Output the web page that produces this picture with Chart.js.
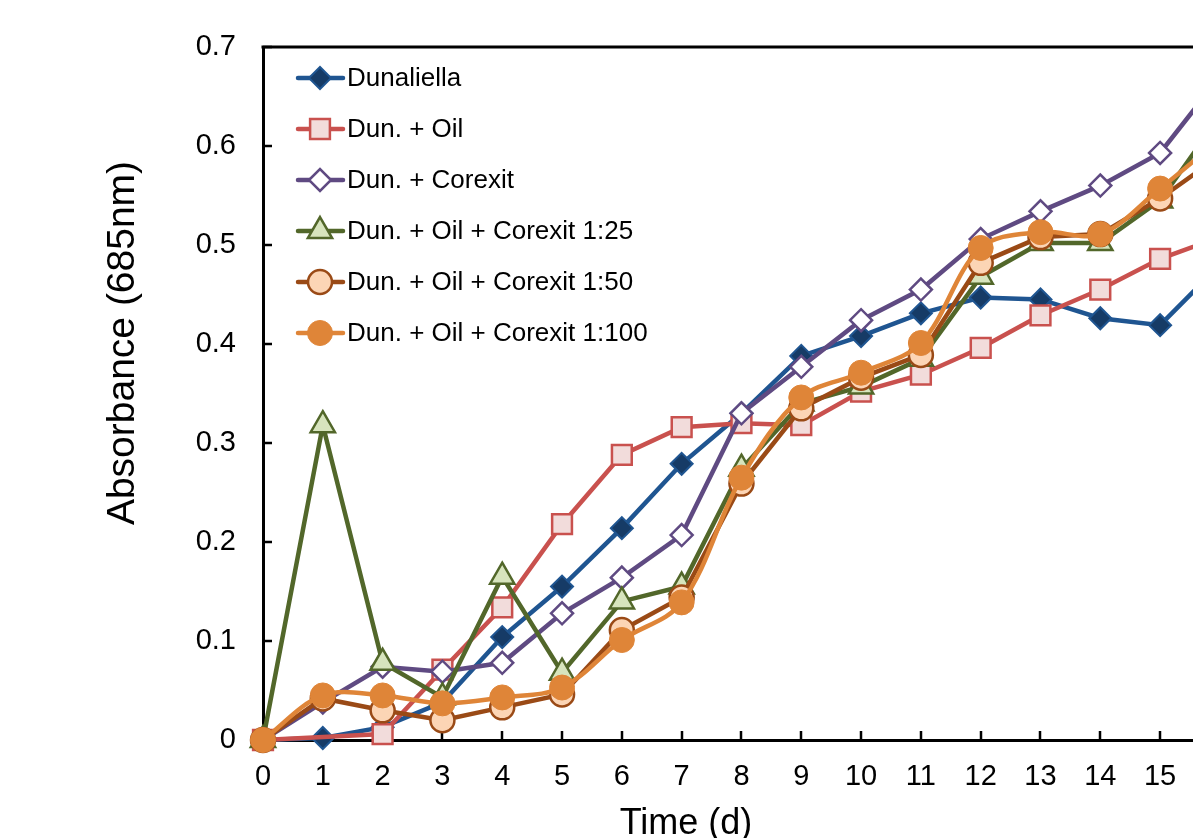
<!DOCTYPE html>
<html>
<head>
<meta charset="utf-8">
<script src="https://cdn.jsdelivr.net/npm/chart.js@4.4.1/dist/chart.umd.min.js"></script>
<style>
  html, body { margin: 0; padding: 0; background: #fff; overflow: hidden; }
  #wrap { width: 1193px; height: 838px; }
</style>
</head>
<body>
<div id="wrap"><canvas id="growthChart" width="1193" height="838"></canvas></div>
<script>
// Absorbance readings per day
const days = [0, 1, 2, 3, 4, 5, 6, 7, 8, 9, 10, 11, 12, 13, 14, 15, 16];
const xTickDays = [0, 1, 2, 3, 4, 5, 6, 7, 8, 9, 10, 11, 12, 13, 14, 15];
const yTickValues = [0, 0.1, 0.2, 0.3, 0.4, 0.5, 0.6, 0.7];

const seriesNames = [
  'Dunaliella',
  'Dun. + Oil',
  'Dun. + Corexit',
  'Dun. + Oil + Corexit 1:25',
  'Dun. + Oil + Corexit 1:50',
  'Dun. + Oil + Corexit 1:100'
];

const dunaliella = [0, 0.002, 0.013, 0.038, 0.104, 0.155, 0.214, 0.279, 0.330, 0.388, 0.408, 0.431, 0.447, 0.445, 0.426, 0.419, 0.48];
const dunOil = [0, null, 0.006, 0.071, 0.134, 0.218, 0.288, 0.316, 0.320, 0.318, 0.352, 0.369, 0.396, 0.429, 0.455, 0.486, 0.508];
const dunCorexit = [0, 0.038, 0.074, 0.069, 0.078, 0.128, 0.164, 0.207, 0.330, 0.377, 0.424, 0.455, 0.506, 0.534, 0.560, 0.593, 0.67];
const oilCorexit25 = [0, 0.318, 0.078, 0.043, 0.165, 0.068, 0.140, 0.155, 0.274, 0.340, 0.357, 0.385, 0.468, 0.502, 0.502, 0.545, 0.63];
const oilCorexit50 = [0, 0.042, 0.030, 0.020, 0.033, 0.046, 0.111, 0.144, 0.259, 0.335, 0.366, 0.389, 0.482, 0.508, 0.511, 0.547, 0.59];
const oilCorexit100 = [0, 0.045, 0.045, 0.037, 0.043, 0.053, 0.101, 0.139, 0.265, 0.346, 0.371, 0.401, 0.497, 0.513, 0.511, 0.557, 0.607];

const FONT = '"Liberation Sans", Arial, Helvetica, sans-serif';
Chart.defaults.font.family = FONT;
Chart.defaults.color = '#000';

const toPoints = (vals) => days.map((d, i) => ({ x: d, y: vals[i] }));

const datasets = [
  { label: seriesNames[0], data: toPoints(dunaliella), borderColor: '#1F5591', backgroundColor: '#163B66',
    pointStyle: 'rectRot', pointRadius: 11, pointBorderWidth: 2 },
  { label: seriesNames[1], data: toPoints(dunOil), borderColor: '#C9514E', backgroundColor: '#F2DCDB',
    pointStyle: 'rect', pointRadius: 14, pointBorderWidth: 2.5 },
  { label: seriesNames[2], data: toPoints(dunCorexit), borderColor: '#5F4A82', backgroundColor: '#FFFFFF',
    pointStyle: 'rectRot', pointRadius: 11, pointBorderWidth: 2.5 },
  { label: seriesNames[3], data: toPoints(oilCorexit25), borderColor: '#52672A', backgroundColor: '#D7E4BD',
    pointStyle: 'triangle', pointRadius: 14, pointBorderWidth: 2.5 },
  { label: seriesNames[4], data: toPoints(oilCorexit50), borderColor: '#9A4A16', backgroundColor: '#FCD5B5',
    pointStyle: 'circle', pointRadius: 12, pointBorderWidth: 2.5 },
  { label: seriesNames[5], data: toPoints(oilCorexit100), borderColor: '#DF8538', backgroundColor: '#DF8538',
    pointStyle: 'circle', pointRadius: 12.5, pointBorderWidth: 1, tension: 0.35 }
];
datasets.forEach((ds, i) => {
  ds.borderWidth = 4.5;
  ds.spanGaps = true;
  ds.clip = false; // markers at day 0 sit on the axes, as in Excel
  ds.order = datasets.length - i; // later series drawn on top, like Excel
});

// frame: top border line + inward tick marks
const frameAndTicks = {
  id: 'frameAndTicks',
  beforeDatasetsDraw(chart) {
    const { ctx, chartArea, scales } = chart;
    ctx.save();
    ctx.strokeStyle = '#000';
    ctx.lineWidth = 3;
    ctx.beginPath();
    ctx.moveTo(chartArea.left - 1.5, chartArea.top);
    ctx.lineTo(chartArea.right + 2, chartArea.top);
    ctx.stroke();
    ctx.lineWidth = 2.5;
    ctx.beginPath();
    xTickDays.forEach(d => {
      const px = Math.round(scales.x.getPixelForValue(d));
      ctx.moveTo(px, chartArea.bottom);
      ctx.lineTo(px, chartArea.bottom - 9);
    });
    yTickValues.forEach(v => {
      const py = Math.round(scales.y.getPixelForValue(v));
      ctx.moveTo(chartArea.left, py);
      ctx.lineTo(chartArea.left + 9, py);
    });
    ctx.stroke();
    ctx.restore();
  }
};

// axis titles and the in-plot legend
const titlesAndLegend = {
  id: 'titlesAndLegend',
  afterDraw(chart) {
    const { ctx } = chart;
    ctx.save();
    ctx.fillStyle = '#000';
    ctx.textAlign = 'center';
    ctx.textBaseline = 'alphabetic';
    ctx.font = '36px ' + FONT;
    ctx.fillText('Time (d)', 686, 834);

    ctx.translate(134, 343);
    ctx.rotate(-Math.PI / 2);
    ctx.font = '39px ' + FONT;
    ctx.fillText('Absorbance (685nm)', 0, 0);
    ctx.restore();

    ctx.save();
    chart.data.datasets.forEach((ds, i) => {
      const y = 78 + i * 51;
      ctx.strokeStyle = ds.borderColor;
      ctx.lineWidth = 4.5;
      ctx.lineCap = 'round';
      ctx.beginPath();
      ctx.moveTo(298, y);
      ctx.lineTo(343, y);
      ctx.stroke();
      ctx.lineCap = 'butt';
      ctx.fillStyle = ds.backgroundColor;
      ctx.lineWidth = ds.pointBorderWidth;
      Chart.helpers.drawPoint(ctx, {
        pointStyle: ds.pointStyle, radius: ds.pointRadius, rotation: 0, borderWidth: ds.pointBorderWidth
      }, 320, y);
      ctx.fillStyle = '#000';
      ctx.font = '26px ' + FONT;
      ctx.textAlign = 'left';
      ctx.textBaseline = 'middle';
      ctx.fillText(ds.label, 347, y + 1);
    });
    ctx.restore();
  }
};

const ctx = document.getElementById('growthChart').getContext('2d');
const growthChart = new Chart(ctx, {
  type: 'line',
  data: { datasets: datasets },
  options: {
    responsive: false,
    animation: false,
    layout: { autoPadding: false, padding: { top: 47, right: 0, bottom: 0, left: 0 } },
    plugins: { legend: { display: false }, tooltip: { enabled: false } },
    scales: {
      x: {
        type: 'linear',
        min: 0,
        max: 15.55,
        afterFit: (s) => { s.height = 98; s.paddingLeft = 0; s.paddingRight = 0; },
        grid: { display: false, drawTicks: false },
        border: { display: true, color: '#000', width: 3 },
        ticks: {
          stepSize: 1, includeBounds: false, padding: 20, autoSkip: false, maxRotation: 0,
          font: { size: 29 }, color: '#000',
          callback: (v) => Number.isInteger(v) ? String(v) : ''
        }
      },
      y: {
        min: 0,
        max: 0.7,
        afterFit: (s) => { s.width = 263; s.paddingTop = 0; s.paddingBottom = 0; },
        grid: { display: false, drawTicks: false },
        border: { display: true, color: '#000', width: 3 },
        ticks: {
          stepSize: 0.1, padding: 27, font: { size: 29 }, color: '#000',
          callback: (v) => v === 0 ? '0' : v.toFixed(1)
        }
      }
    }
  },
  plugins: [frameAndTicks, titlesAndLegend]
});
</script>
</body>
</html>
